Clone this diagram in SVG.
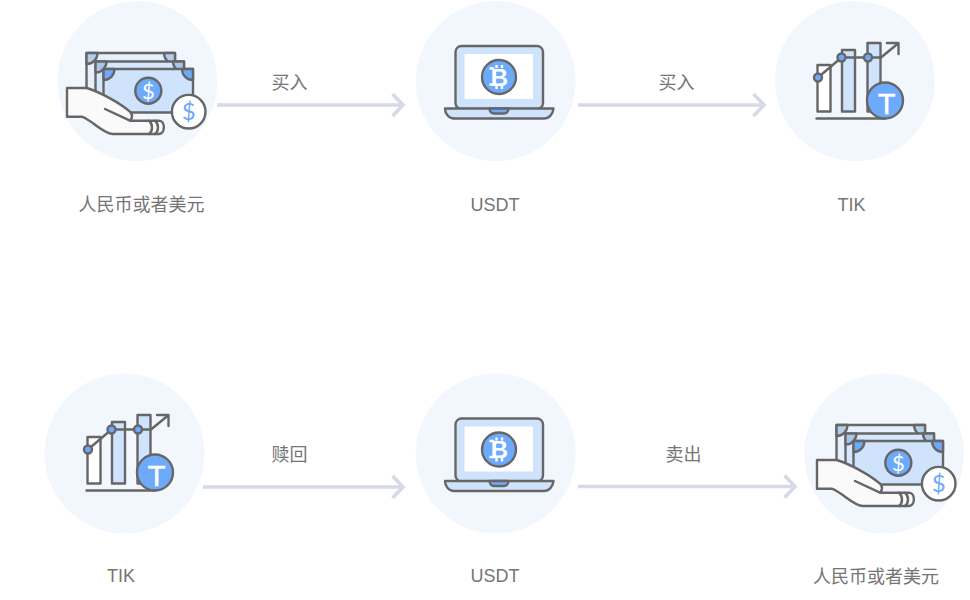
<svg xmlns="http://www.w3.org/2000/svg" width="970" height="600" viewBox="0 0 970 600">
<style>
text{font-family:"Noto Sans CJK SC","Liberation Sans",sans-serif;font-size:18px;fill:#757575;text-anchor:middle}
.lat{font-family:"Liberation Sans","Noto Sans CJK SC",sans-serif;font-size:18px}
.bg{fill:#f2f7fe}
.ol{stroke:#666;stroke-width:2.4;stroke-linejoin:round;stroke-linecap:round}
.conn{fill:none;stroke:#d5d9e8;stroke-width:3.6}
.sym{font-family:Lato,"Liberation Sans",sans-serif;font-weight:400}
</style>
<defs>
<g id="money">
<path class="ol" fill="#e6f0fd" d="M86.500 53H175V100H86.500Z"/>
<path class="ol" fill="#b4cdea" d="M86.500 53H97.500A11 11 0 0 1 86.500 64ZM175 53V64A11 11 0 0 1 164 53Z"/>
<path class="ol" fill="#d8e8fc" d="M95.500 61.500H184V105H95.500Z"/>
<path class="ol" fill="#a9c6e8" d="M95.500 61.500H106.500A11 11 0 0 1 95.500 72.500ZM184 61.500V72.500A11 11 0 0 1 173 61.500Z"/>
<path class="ol" fill="#cfe3fd" d="M103.500 69H193V112.500H103.500Z"/>
<path class="ol" fill="#6eaafc" d="M103.500 69H114.500A11 11 0 0 1 103.500 80ZM193 69V80A11 11 0 0 1 182 69Z"/>
<circle class="ol" cx="148.300" cy="90.700" r="13" fill="#6eaafc"/>
<text x="148.300" y="98.500" class="sym" style="fill:#fff;font-size:22px">$</text>
<path class="ol" fill="#fafafa" d="M67 88H86.700C100 92 120 103 130 111.700C132.500 114.500 132.500 118 130 120.700H159C165.500 120.700 165.500 134 159 134H113C103 134 92 120 81.700 116.700H67Z"/>
<path class="ol" fill="none" d="M105 109L130 120.700M149 120.700C153 124 153 131 149 134M155 120.700C159 124 159 131 155 134"/>
<circle class="ol" cx="188.700" cy="111.700" r="16.800" fill="#fff"/>
<text x="188.700" y="120" class="sym" style="fill:#6eaafc;font-size:24px">$</text>
</g>
<g id="laptop">
<rect class="ol" x="455.500" y="46" width="87.500" height="63" rx="6" fill="#cfe3fd"/>
<rect x="464.500" y="54" width="68.500" height="45" fill="#fff"/>
<circle class="ol" cx="499" cy="77" r="17" fill="#6eaafc"/>
<text x="499.500" y="85.500" style="fill:#fff;font-size:24px;font-weight:700" class="lat">B</text>
<path d="M496.500 65V68M502 65V68M496.500 85V89M502 85V89M489.500 68.500H494M489.500 84.500H494" fill="none" stroke="#fff" stroke-width="2.400"/>
<path class="ol" fill="#cfe3fd" d="M445 108.500H553.500C553 114 549 118.500 544 118.500H454C449 118.500 445 114 445 108.500Z"/>
<path class="ol" fill="#6eaafc" d="M489.500 108.500H508.500C508.500 111.500 506.500 113.500 504 113.500H494C491.500 113.500 489.500 111.500 489.500 108.500Z"/>
</g>
<g id="chart">
<rect class="ol" x="817.500" y="65" width="13" height="46.500" fill="#fff"/>
<rect class="ol" x="842" y="50" width="13" height="61.500" fill="#cfe3fd"/>
<rect class="ol" x="867.500" y="43" width="13" height="68.500" fill="#cfe3fd"/>
<path class="ol" fill="none" d="M816.500 118.500H885M818 77.500L841.500 57.500H868.500H881L898 43.500M887 43H898.500V54"/>
<circle class="ol" cx="818" cy="77.500" r="4" fill="#6eaafc"/>
<circle class="ol" cx="841.500" cy="57.500" r="4" fill="#6eaafc"/>
<circle class="ol" cx="868" cy="57.500" r="4" fill="#6eaafc"/>
<circle class="ol" cx="885" cy="100.500" r="18" fill="#6eaafc"/>
<text x="886.500" y="113.500" class="lat" style="fill:#fff;font-size:29px;stroke:#fff;stroke-width:.5">T</text>
</g>
</defs>
<g id="connectors" class="conn">
<path d="M217 105H403M392.500 94L403 105L392.500 116"/>
<path d="M578 105H764M753.500 94L764 105L753.500 116"/>
<path d="M203 487H403M392.500 476L403 487L392.500 498"/>
<path d="M578 486.500H795M784.500 475.500L795 486.500L784.500 497.500"/>
</g>
<g id="node-money-top">
<circle class="bg" cx="137.300" cy="81" r="80"/>
<use href="#money"/>
<text x="141.500" y="211">人民币或者美元</text>
</g>
<g id="node-usdt-top">
<circle class="bg" cx="495.700" cy="81" r="80"/>
<use href="#laptop"/>
<text x="495" y="210.500" class="lat">USDT</text>
</g>
<g id="node-tik-top">
<circle class="bg" cx="855" cy="81" r="80"/>
<use href="#chart"/>
<text x="851.500" y="210.500" class="lat">TIK</text>
</g>
<g id="node-tik-bottom">
<circle class="bg" cx="124.500" cy="453.500" r="80"/>
<use href="#chart" transform="translate(-730 372)"/>
<text x="121" y="582" class="lat">TIK</text>
</g>
<g id="node-usdt-bottom">
<circle class="bg" cx="495.700" cy="453.500" r="80"/>
<use href="#laptop" transform="translate(0 372.500)"/>
<text x="495" y="582" class="lat">USDT</text>
</g>
<g id="node-money-bottom">
<circle class="bg" cx="884" cy="453.500" r="80"/>
<use href="#money" transform="translate(750 372)"/>
<text x="876" y="582.500">人民币或者美元</text>
</g>
<g id="edge-labels">
<text x="289.500" y="88.500">买入</text>
<text x="676.500" y="88.500">买入</text>
<text x="289.500" y="460.500">赎回</text>
<text x="683.500" y="460.500">卖出</text>
</g>
</svg>
